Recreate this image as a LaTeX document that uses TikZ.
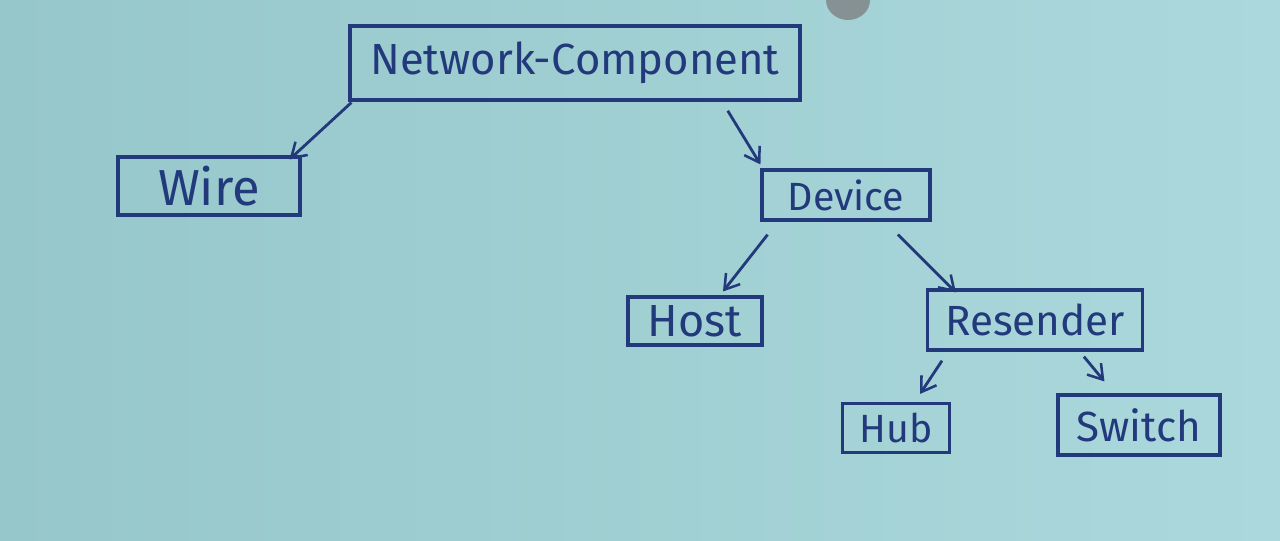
\documentclass[tikz,border=0pt]{standalone}
\usepackage{fontspec}
\setmainfont{Fira Sans}
\usetikzlibrary{positioning,calc,arrows.meta}
\definecolor{paperdark}{HTML}{96C7CA}
\definecolor{paperlight}{HTML}{ABD8DC}
\definecolor{ink}{HTML}{22397C}

\tikzset{
    tag/.style={draw=ink, line width=2.2pt, text=ink, inner sep=0pt, font=\fontsize{#1}{#1}\selectfont},
    link/.style={draw=ink, line width=2pt, -{Straight Barb[length=3.5mm,width=4.5mm,line width=1.8pt]}, shorten <=1pt}
}

\begin{document}
\begin{tikzpicture}
    \useasboundingbox (0,0) rectangle (32,13.5);
    % paper
    \shade[left color=paperdark, right color=paperlight] (0,0) rectangle (32,13.5);
    \fill[gray!75!paperdark] (21.2,13.5) ellipse (0.55cm and 0.5cm);

    % boxes
    \node[tag=31pt, minimum width=11.25cm, minimum height=1.85cm] (nc) at (14.375,11.925) {Network-Component};
    \node[tag=36pt, minimum width=4.55cm, minimum height=1.45cm] (wire) at (5.225,8.85) {Wire};
    \node[tag=28pt, minimum width=4.2cm, minimum height=1.25cm] (device) at (21.15,8.625) {Device};
    \node[tag=32pt, minimum width=3.35cm, minimum height=1.2cm] (host) at (17.375,5.475) {Host};
    \node[tag=30pt, minimum width=5.375cm, minimum height=1.5cm] (resender) at (25.875,5.5) {Resender};
    \node[tag=28pt, minimum width=2.675cm, minimum height=1.225cm] (hub) at (22.4,2.8) {Hub};
    \node[tag=30pt, minimum width=4.05cm, minimum height=1.5cm] (switch) at (28.475,2.875) {Switch};

    % arrows
    \draw[link] ([xshift=0.1cm]nc.south west) -- ([xshift=-0.3cm,yshift=-0.1cm]wire.north east);
    \draw[link] ([xshift=3.8cm,yshift=-0.2cm]nc.south) -- ([yshift=0.1cm]device.north west);
    \draw[link] ([xshift=0.2cm,yshift=-0.3cm]device.south west) -- ([xshift=0.7cm,yshift=0.1cm]host.north);
    \draw[link] ([xshift=1.27cm,yshift=-0.3cm]device.south) -- ([xshift=0.75cm,yshift=-0.1cm]resender.north west);
    \draw[link] ([xshift=0.42cm,yshift=-0.2cm]resender.south west) -- ([xshift=0.6cm,yshift=0.2cm]hub.north);
    \draw[link] ([xshift=1.2cm,yshift=-0.1cm]resender.south) -- ([xshift=1.2cm,yshift=0.3cm]switch.north west);
\end{tikzpicture}
\end{document}
